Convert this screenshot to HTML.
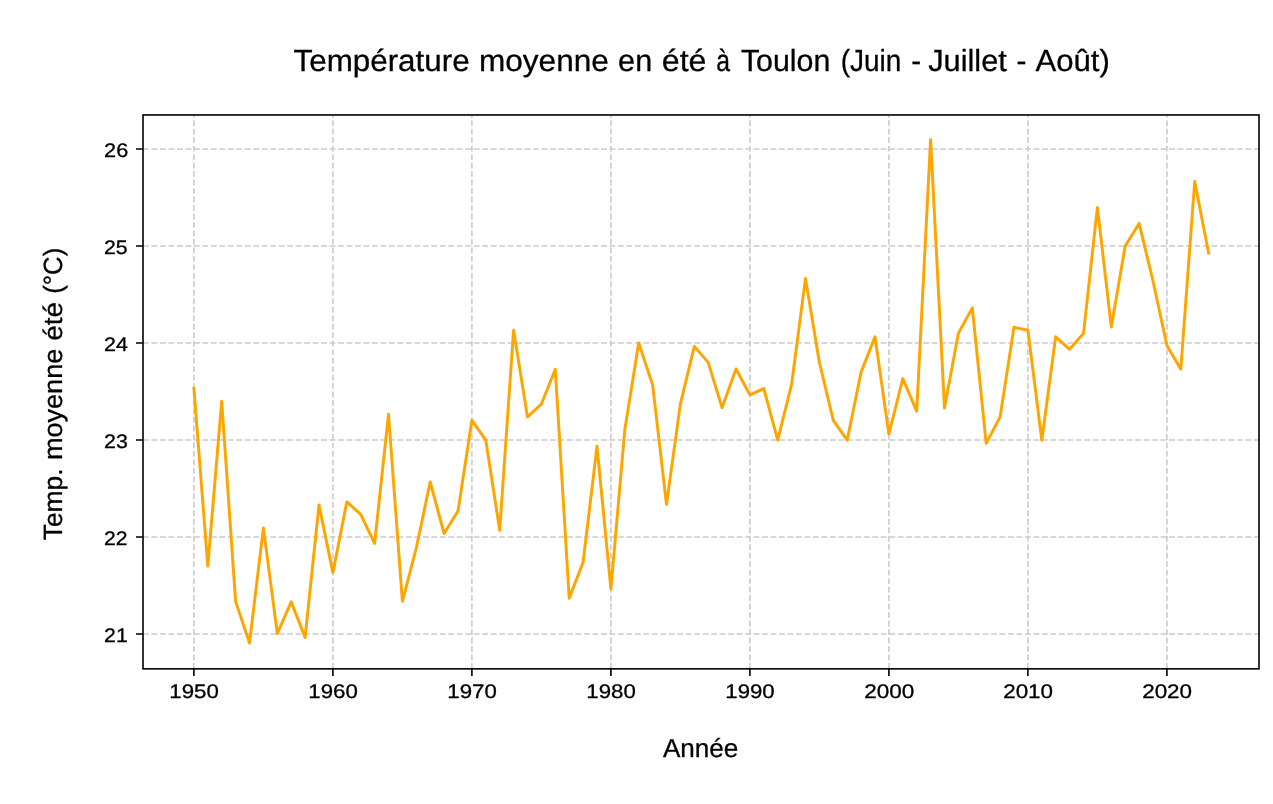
<!DOCTYPE html>
<html><head><meta charset="utf-8"><style>
html,body{margin:0;padding:0;background:#fff;width:1273px;height:804px;overflow:hidden}
svg{display:block;will-change:transform;text-rendering:geometricPrecision}
</style></head><body>
<svg width="1273" height="804" viewBox="0 0 1273 804">
<rect x="0" y="0" width="1273" height="804" fill="#ffffff"/>
<path d="M193.90 668.85V114.95M332.90 668.85V114.95M471.90 668.85V114.95M610.90 668.85V114.95M749.90 668.85V114.95M888.90 668.85V114.95M1027.90 668.85V114.95M1166.90 668.85V114.95M143.00 633.95H1259.00M143.00 536.95H1259.00M143.00 439.95H1259.00M143.00 342.95H1259.00M143.00 245.95H1259.00M143.00 148.95H1259.00" stroke="#b0b0b0" stroke-opacity="0.66" stroke-width="1.6" stroke-dasharray="5.9 2.58" fill="none"/>
<polyline points="193.90,388.40 207.80,566.10 221.70,401.30 235.60,601.40 249.50,643.00 263.40,527.90 277.30,633.60 291.20,601.90 305.10,637.50 319.00,504.90 332.90,572.60 346.80,501.90 360.70,514.30 374.60,543.40 388.50,414.30 402.40,601.40 416.30,548.00 430.20,482.00 444.10,533.50 458.00,511.00 471.90,420.30 485.80,440.20 499.70,530.30 513.60,330.20 527.50,416.90 541.40,404.00 555.30,369.40 569.20,598.20 583.10,562.30 597.00,446.30 610.90,588.90 624.80,429.80 638.70,343.00 652.60,384.70 666.50,504.40 680.40,403.90 694.30,346.40 708.20,362.40 722.10,407.70 736.00,369.00 749.90,394.80 763.80,388.60 777.70,440.10 791.60,384.40 805.50,278.40 819.40,362.50 833.30,420.40 847.20,440.10 861.10,372.10 875.00,336.90 888.90,434.10 902.80,378.70 916.70,411.20 930.60,139.40 944.50,408.10 958.40,333.30 972.30,307.90 986.20,443.40 1000.10,416.90 1014.00,327.30 1027.90,330.20 1041.80,440.30 1055.70,336.80 1069.60,349.30 1083.50,333.40 1097.40,207.40 1111.30,327.10 1125.20,246.00 1139.10,223.40 1153.00,281.00 1166.90,345.50 1180.80,369.20 1194.70,181.50 1208.60,253.00" fill="none" stroke="#ffa500" stroke-width="2.95" stroke-linejoin="round" stroke-linecap="square"/>
<rect x="143.0" y="114.95" width="1116.00" height="553.90" fill="none" stroke="#000" stroke-width="1.6" stroke-linejoin="miter"/>
<path d="M193.90 668.85V675.90M332.90 668.85V675.90M471.90 668.85V675.90M610.90 668.85V675.90M749.90 668.85V675.90M888.90 668.85V675.90M1027.90 668.85V675.90M1166.90 668.85V675.90M143.00 633.95H135.95M143.00 536.95H135.95M143.00 439.95H135.95M143.00 342.95H135.95M143.00 245.95H135.95M143.00 148.95H135.95" stroke="#000" stroke-width="1.6" fill="none"/>
<g fill="#000" stroke="#000" stroke-width="0.3">
<text x="169.29" y="698.1" font-family='"Liberation Sans", sans-serif' font-size="19.6" textLength="49.53" lengthAdjust="spacingAndGlyphs">1950</text>
<text x="308.29" y="698.1" font-family='"Liberation Sans", sans-serif' font-size="19.6" textLength="49.53" lengthAdjust="spacingAndGlyphs">1960</text>
<text x="447.29" y="698.1" font-family='"Liberation Sans", sans-serif' font-size="19.6" textLength="49.53" lengthAdjust="spacingAndGlyphs">1970</text>
<text x="586.29" y="698.1" font-family='"Liberation Sans", sans-serif' font-size="19.6" textLength="49.53" lengthAdjust="spacingAndGlyphs">1980</text>
<text x="725.29" y="698.1" font-family='"Liberation Sans", sans-serif' font-size="19.6" textLength="49.40" lengthAdjust="spacingAndGlyphs">1990</text>
<text x="864.15" y="698.1" font-family='"Liberation Sans", sans-serif' font-size="19.6" textLength="50.08" lengthAdjust="spacingAndGlyphs">2000</text>
<text x="1003.16" y="698.1" font-family='"Liberation Sans", sans-serif' font-size="19.6" textLength="49.92" lengthAdjust="spacingAndGlyphs">2010</text>
<text x="1142.16" y="698.1" font-family='"Liberation Sans", sans-serif' font-size="19.6" textLength="49.92" lengthAdjust="spacingAndGlyphs">2020</text>
<text x="104.09" y="641.65" font-family='"Liberation Sans", sans-serif' font-size="19.6" textLength="23.60" lengthAdjust="spacingAndGlyphs">21</text>
<text x="104.09" y="544.65" font-family='"Liberation Sans", sans-serif' font-size="19.6" textLength="23.49" lengthAdjust="spacingAndGlyphs">22</text>
<text x="104.08" y="447.65" font-family='"Liberation Sans", sans-serif' font-size="19.6" textLength="23.77" lengthAdjust="spacingAndGlyphs">23</text>
<text x="104.08" y="350.65" font-family='"Liberation Sans", sans-serif' font-size="19.6" textLength="23.77" lengthAdjust="spacingAndGlyphs">24</text>
<text x="104.09" y="253.65" font-family='"Liberation Sans", sans-serif' font-size="19.6" textLength="23.56" lengthAdjust="spacingAndGlyphs">25</text>
<text x="104.07" y="156.65" font-family='"Liberation Sans", sans-serif' font-size="19.6" textLength="24.17" lengthAdjust="spacingAndGlyphs">26</text>
<text x="293.53" y="70.85" font-family='"Liberation Sans", sans-serif' font-size="30.5" textLength="176.07" lengthAdjust="spacingAndGlyphs">Température</text>
<text x="479.03" y="70.85" font-family='"Liberation Sans", sans-serif' font-size="30.5" textLength="129.78" lengthAdjust="spacingAndGlyphs">moyenne</text>
<text x="618.14" y="70.85" font-family='"Liberation Sans", sans-serif' font-size="30.5" textLength="34.05" lengthAdjust="spacingAndGlyphs">en</text>
<text x="661.81" y="70.85" font-family='"Liberation Sans", sans-serif' font-size="30.5" textLength="44.69" lengthAdjust="spacingAndGlyphs">été</text>
<text x="716.26" y="70.85" font-family='"Liberation Sans", sans-serif' font-size="30.5" textLength="13.75" lengthAdjust="spacingAndGlyphs">à</text>
<text x="740.91" y="70.85" font-family='"Liberation Sans", sans-serif' font-size="30.5" textLength="89.47" lengthAdjust="spacingAndGlyphs">Toulon</text>
<text x="840.71" y="70.85" font-family='"Liberation Sans", sans-serif' font-size="30.5" textLength="60.67" lengthAdjust="spacingAndGlyphs">(Juin</text>
<text x="911.27" y="70.85" font-family='"Liberation Sans", sans-serif' font-size="30.5" textLength="9.90" lengthAdjust="spacingAndGlyphs">-</text>
<text x="928.17" y="70.85" font-family='"Liberation Sans", sans-serif' font-size="30.5" textLength="78.71" lengthAdjust="spacingAndGlyphs">Juillet</text>
<text x="1016.39" y="70.85" font-family='"Liberation Sans", sans-serif' font-size="30.5" textLength="9.90" lengthAdjust="spacingAndGlyphs">-</text>
<text x="1035.49" y="70.85" font-family='"Liberation Sans", sans-serif' font-size="30.5" textLength="74.34" lengthAdjust="spacingAndGlyphs">Août)</text>
<text x="662.9" y="756.8" font-family='"Liberation Sans", sans-serif' font-size="25.95" textLength="75.5" lengthAdjust="spacingAndGlyphs">Année</text>
<g transform="translate(62.0 539.8) rotate(-90)">
<text x="-0.42" y="0" font-family='"Liberation Sans", sans-serif' font-size="26.4" textLength="71.66" lengthAdjust="spacingAndGlyphs">Temp.</text>
<text x="79.80" y="0" font-family='"Liberation Sans", sans-serif' font-size="26.4" textLength="111.21" lengthAdjust="spacingAndGlyphs">moyenne</text>
<text x="199.08" y="0" font-family='"Liberation Sans", sans-serif' font-size="26.4" textLength="38.71" lengthAdjust="spacingAndGlyphs">été</text>
<text x="246.09" y="0" font-family='"Liberation Sans", sans-serif' font-size="26.4" textLength="45.98" lengthAdjust="spacingAndGlyphs">(°C)</text>
</g>
</g>
</svg>
</body></html>
